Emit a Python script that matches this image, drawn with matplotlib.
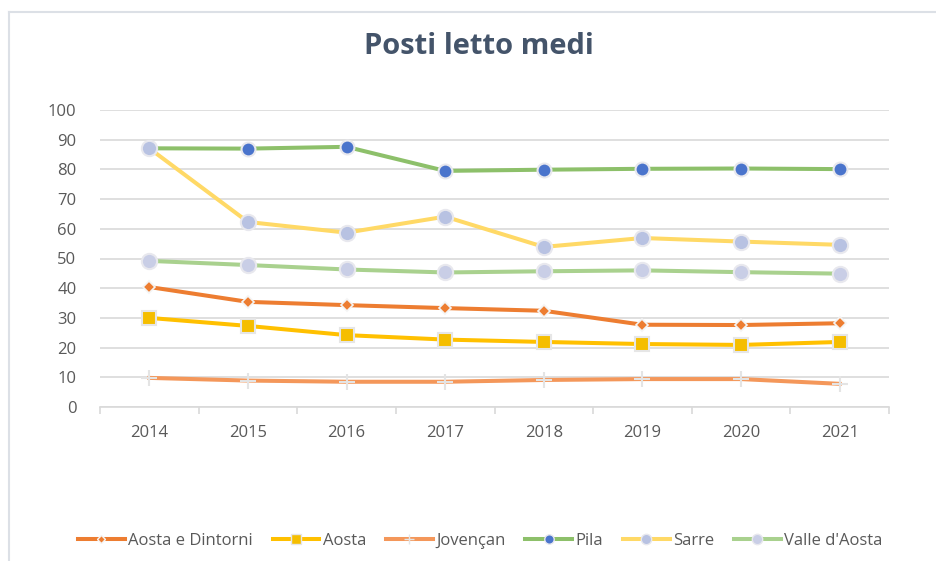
import matplotlib.pyplot as plt
from matplotlib.lines import Line2D

plt.rcParams['font.family'] = ['Open Sans', 'DejaVu Sans']

years = ['2014', '2015', '2016', '2017', '2018', '2019', '2020', '2021']
aosta_dintorni = [40.4, 35.4, 34.3, 33.3, 32.4, 27.7, 27.6, 28.2]
aosta = [30.0, 27.3, 24.2, 22.7, 21.9, 21.2, 20.9, 21.9]
jovencan = [9.8, 8.9, 8.5, 8.5, 9.1, 9.4, 9.4, 7.8]
pila = [87.1, 87.0, 87.6, 79.5, 79.9, 80.2, 80.3, 80.1]
sarre = [87.1, 62.3, 58.7, 64.1, 53.9, 56.9, 55.7, 54.6]
valle = [49.2, 47.8, 46.3, 45.3, 45.7, 46.0, 45.4, 44.9]

text_color = '#595959'
grid_color = '#D9D9D9'

# (label, values, line colour, marker, size, face, edge)
series = [
    ('Aosta e Dintorni', aosta_dintorni, '#ED7D31', 'D', 6, '#ED7D31', '#F4F4F4'),
    ('Aosta', aosta, '#FFC000', 's', 10, '#F5BE00', '#E6E6E6'),
    ('Jovençan', jovencan, '#F4975A', '+', 11, 'none', '#E4E4E4'),
    ('Pila', pila, '#8DC06A', 'o', 10, '#4A74CC', '#E8E8EE'),
    ('Sarre', sarre, '#FFD966', 'o', 11, '#B8C2E2', '#E8E8EE'),
    ("Valle d'Aosta", valle, '#A9D18E', 'o', 11, '#C9CEE6', '#E8E8EE'),
]

fig = plt.figure(figsize=(9.36, 5.61), dpi=100)
ax = fig.add_axes([100 / 936, 1 - 407 / 561, 789 / 936, 297 / 561])

x = list(range(len(years)))
lw = 2.9
handles = []
for label, vals, col, mk, ms, fc, ec in series:
    ax.plot(x, vals, color=col, lw=lw, marker=mk, ms=ms, mfc=fc, mec=ec,
            mew=1.5 if mk != 'D' else 1.2, zorder=3)
    handles.append(Line2D([], [], color=col, lw=lw, marker=mk, ms=ms * 0.68,
                          mfc=fc, mec=ec, mew=1.0, label=label))

ax.set_ylim(0, 100)
ax.set_xlim(-0.5, len(years) - 0.5)
ax.set_yticks(range(0, 101, 10))
ax.set_xticks(x)
ax.set_xticklabels(years)
ax.set_xticks([i - 0.5 for i in range(len(years) + 1)], minor=True)
ax.tick_params(axis='x', which='major', length=0, pad=13, labelsize=12, labelcolor=text_color)
ax.tick_params(axis='x', which='minor', length=5, width=1.2, color=grid_color)
ax.tick_params(axis='y', length=0, pad=17, labelsize=12, labelcolor=text_color)
ax.grid(axis='y', color=grid_color, lw=1.2)
ax.set_axisbelow(True)
for side in ['top', 'right', 'left']:
    ax.spines[side].set_visible(False)
ax.spines['bottom'].set_color(grid_color)
ax.spines['bottom'].set_linewidth(1.2)

fig.text(0.512, 1 - 47 / 561, 'Posti letto medi', ha='center', va='center',
         fontsize=21, fontweight='bold', color='#44546A')

fig.legend(handles=handles, loc='center', bbox_to_anchor=(0.513, 1 - 541 / 561), ncol=6,
           frameon=False, fontsize=12, labelcolor=text_color, handlelength=2.8,
           handletextpad=0.2, columnspacing=1.2)

# chart border
fig.add_artist(Line2D([9 / 936, 1], [1 - 12 / 561] * 2, color='#DCE0E6', lw=1.5))
fig.add_artist(Line2D([9 / 936] * 2, [0, 1 - 12 / 561], color='#DCE0E6', lw=1.5))

fig.savefig('out.png', dpi=100, facecolor='white')
